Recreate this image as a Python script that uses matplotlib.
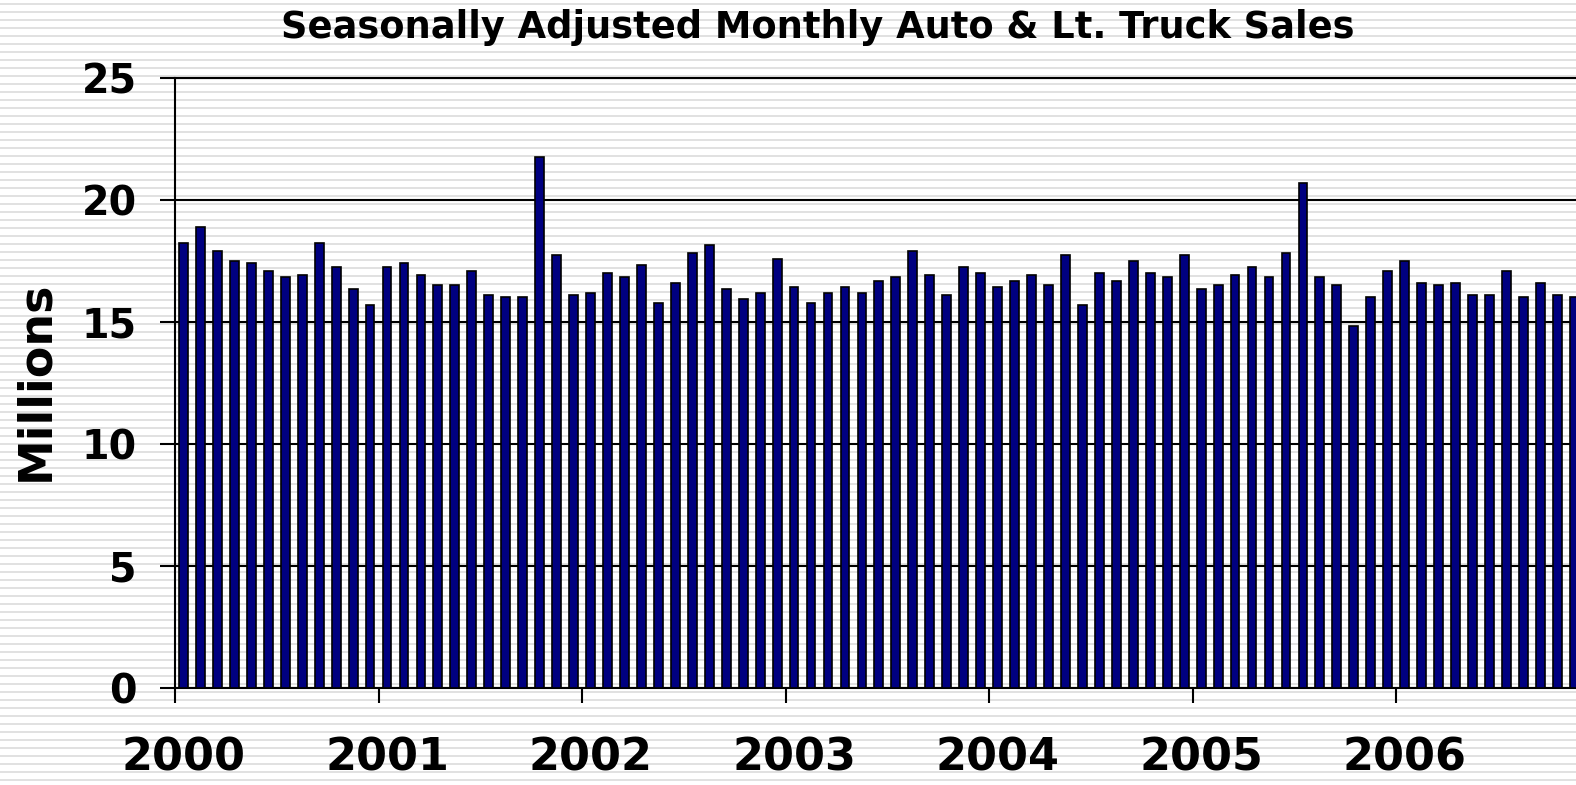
import numpy as np
import matplotlib.pyplot as plt

# monthly SAAR, millions (Jan 2000 .. Nov 2006)
sales_2000 = [18.22, 18.88, 17.91, 17.50, 17.42, 17.09, 16.84, 16.93, 18.22, 17.25, 16.35, 15.71]
sales_2001 = [17.25, 17.42, 16.93, 16.52, 16.52, 17.09, 16.11, 16.04, 16.04, 21.75, 17.75, 16.11]
sales_2002 = [16.20, 17.01, 16.84, 17.34, 15.78, 16.60, 17.83, 18.16, 16.37, 15.94, 16.20, 17.58]
sales_2003 = [16.45, 15.78, 16.20, 16.45, 16.20, 16.68, 16.84, 17.91, 16.93, 16.11, 17.25, 17.01]
sales_2004 = [16.43, 16.68, 16.93, 16.52, 17.75, 15.71, 17.01, 16.68, 17.50, 17.01, 16.84, 17.75]
sales_2005 = [16.37, 16.52, 16.93, 17.25, 16.84, 17.83, 20.68, 16.84, 16.52, 14.84, 16.04, 17.09]
sales_2006 = [17.50, 16.60, 16.52, 16.60, 16.11, 16.11, 17.09, 16.04, 16.60, 16.11, 16.04]
years = ['2000', '2001', '2002', '2003', '2004', '2005', '2006']
y_ticks = [0, 5, 10, 15, 20, 25]

sales = sales_2000 + sales_2001 + sales_2002 + sales_2003 + sales_2004 + sales_2005 + sales_2006

W, H = 1576, 785
fig = plt.figure(figsize=(W / 100, H / 100), dpi=100)
fig.patch.set_facecolor('white')

# striped slide background
bg = fig.add_axes([0, 0, 1, 1], zorder=-1)
rows = np.arange(H)
stripes = np.where(np.isin(rows % 8, [3, 4]), 0.88, 1.0)[:, None]
bg.imshow(stripes, cmap='gray', vmin=0, vmax=1, aspect='auto',
          interpolation='nearest', extent=[0, 1, 0, 1])
bg.axis('off')

left = 175 / W
bottom = (H - 688) / H
top = (H - 78) / H
ax = fig.add_axes([left, bottom, 1 - left, top - bottom])
ax.set_facecolor('none')

x = np.arange(len(sales)) + 0.5
ax.bar(x, sales, width=0.52, color='#000080', edgecolor='black', linewidth=1.2, zorder=3)

ax.set_xlim(0, 82.6)
ax.set_ylim(0, 25)
ax.set_yticks(y_ticks)
ax.yaxis.grid(True, color='black', linewidth=1.5)
ax.set_axisbelow(True)

ax.spines['right'].set_visible(False)
for s in ['left', 'bottom', 'top']:
    ax.spines[s].set_linewidth(1.5)

# year ticks at boundaries, labels at first month
ax.set_xticks(np.arange(len(years)) * 12)
ax.set_xticklabels([])
ax.set_xticks(np.arange(len(years)) * 12 + 0.5, minor=True)
ax.set_xticklabels(years, minor=True)
ax.tick_params(axis='x', which='major', direction='out', length=11, width=1.5)
ax.tick_params(axis='x', which='minor', length=0, pad=35, labelsize=32)
ax.tick_params(axis='y', direction='out', length=10.5, width=1.5, pad=17, labelsize=28.5)
for lab in ax.get_xticklabels(minor=True) + ax.get_yticklabels():
    lab.set_fontweight('bold')
    lab.set_fontfamily('DejaVu Sans')

fig.text(818 / W, 1 - 28 / H, 'Seasonally Adjusted Monthly Auto & Lt. Truck Sales',
         ha='center', va='center', fontsize=26.5, fontweight='bold', family='DejaVu Sans')
fig.text(36 / W, 1 - 381 / H, 'Millions', rotation=90, ha='center', va='center',
         fontsize=33, fontweight='bold', family='DejaVu Sans')

fig.savefig('out.png', dpi=100)
